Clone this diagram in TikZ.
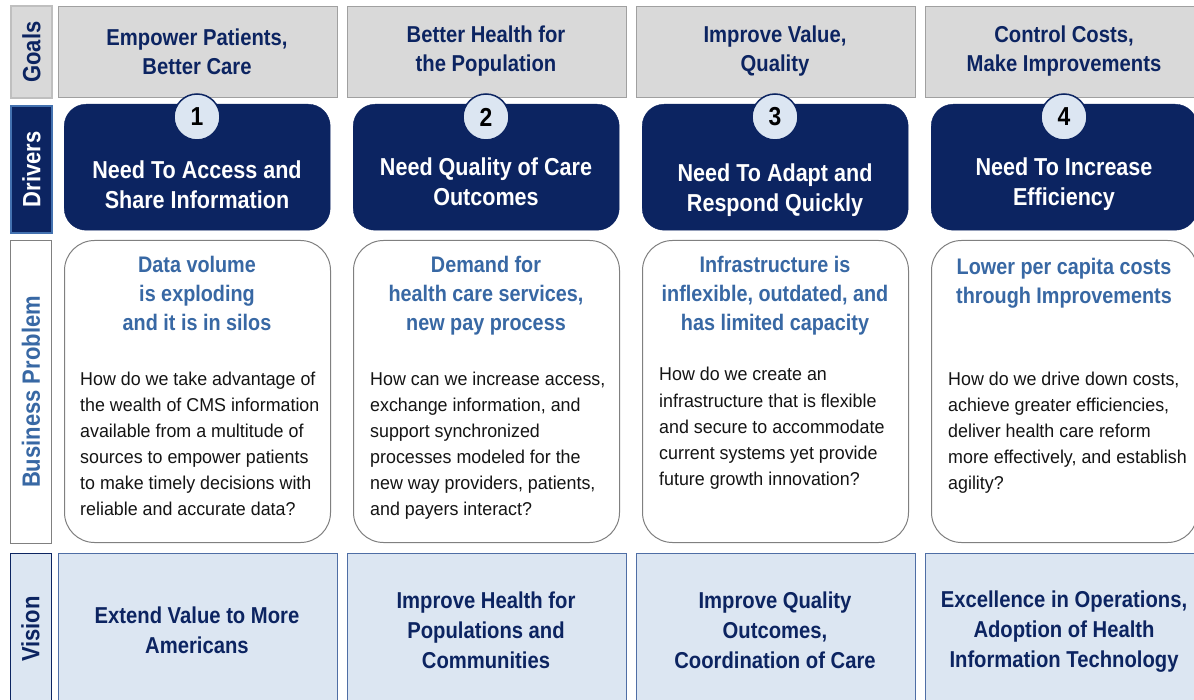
\documentclass[tikz,border=0pt]{standalone}
\usepackage{fontspec}
\setmainfont{Liberation Sans}
\newfontfamily\cnd[FakeStretch=0.88]{Liberation Sans}
\newfontfamily\bodyf[FakeStretch=0.96]{Liberation Sans}
\definecolor{navy}{RGB}{12,36,97}
\definecolor{goalgray}{RGB}{217,217,217}
\definecolor{goalline}{RGB}{160,160,160}
\definecolor{lblgoalline}{RGB}{191,191,191}
\definecolor{bpline}{RGB}{128,128,128}
\definecolor{visfill}{RGB}{220,230,242}
\definecolor{visline}{RGB}{79,110,165}
\definecolor{steel}{RGB}{56,104,164}
\definecolor{drvlblline}{RGB}{68,114,176}
\definecolor{bodytext}{RGB}{20,20,20}
\tikzset{
  goalbox/.style={draw=goalline, fill=goalgray, line width=1pt, minimum width=279pt, minimum height=91pt, inner sep=0, anchor=north west},
  drvbox/.style={fill=navy, draw=navy, rounded corners=22pt, minimum width=266pt, minimum height=126pt, inner sep=0, anchor=north west},
  bpbox/.style={draw=bpline, fill=white, line width=1pt, rounded corners=30pt, minimum width=266pt, minimum height=302pt, inner sep=0, anchor=north west},
  visbox/.style={draw=visline, fill=visfill, line width=1pt, minimum width=279pt, minimum height=160pt, inner sep=0, anchor=north west},
  numcirc/.style={circle, draw=navy, line width=1.5pt, fill=visfill, minimum size=46pt, inner sep=0, text=black, font=\cnd\bfseries\fontsize{26}{26}\selectfont},
  goaltext/.style={align=center, text=navy, inner sep=0, font=\cnd\bfseries\fontsize{23}{29}\selectfont},
  drvtext/.style={align=center, text=white, inner sep=0, font=\cnd\bfseries\fontsize{24.5}{30}\selectfont},
  bptitle/.style={align=center, text=steel, inner sep=0, anchor=north, font=\cnd\bfseries\fontsize{22.5}{29}\selectfont},
  bodyline/.style={anchor=base west, inner sep=0, text=bodytext, font=\bodyf\fontsize{18.6}{26}\selectfont},
  vistext/.style={align=center, text=navy, inner sep=0, font=\cnd\bfseries\fontsize{23}{30}\selectfont},
  lblbox/.style={minimum width=41pt, inner sep=0, anchor=north west},
  lbltext/.style={rotate=90, inner sep=0, font=\cnd\bfseries\fontsize{25}{25}\selectfont}
}
\begin{document}
\begin{tikzpicture}[x=1pt,y=-1pt]
\useasboundingbox (0,0) rectangle (1194,700);
\clip (0,0) rectangle (1194,700);
\fill[white] (0,0) rectangle (1194,700);
% row labels
\node[lblbox, fill=goalgray, draw=lblgoalline, line width=2pt, minimum height=92pt] (lgbox) at (10,5) {};
\node[lbltext, text=navy] (lg) at (lgbox.center) {Goals};
\node[lblbox, fill=navy, draw=drvlblline, line width=2pt, minimum height=127pt] (ldbox) at (10,105) {};
\node[lbltext, text=white] (ld) at (ldbox.center) {Drivers};
\node[lblbox, fill=white, draw=bpline, line width=1pt, minimum height=303pt] (lbbox) at (10,240) {};
\node[lbltext, text=steel] (lb) at (lbbox.center) {Business Problem};
\node[lblbox, fill=visfill, draw=navy, line width=1.2pt, minimum height=160pt] (lvbox) at (10,553) {};
\node[lbltext, text=navy] (lv) at (30.5,629) {Vision};
% columns
\foreach \c/\x in {1/58,2/347,3/636,4/925} {
  \node[goalbox] (goal\c) at (\x,6) {};
  \node[drvbox] (drv\c) at (\x+6,104) {};
  \node[numcirc] (num\c) at (\x+139,117) {\c};
  \node[bpbox] (bp\c) at (\x+6,240) {};
  \node[visbox] (vis\c) at (\x,553) {};
}
% goals
\node[goaltext] (gt1) at (197,51.5) {Empower Patients,\\Better Care};
\node[goaltext] (gt2) at (486,51.5) {Better Health for\\the Population};
\node[goaltext] (gt3) at (775,51.5) {Improve Value,\\Quality};
\node[goaltext] (gt4) at (1064,51.5) {Control Costs,\\Make Improvements};
% drivers
\node[drvtext] (dt1) at (197,185) {Need To Access and\\Share Information};
\node[drvtext] (dt2) at (486,182) {Need Quality of Care\\Outcomes};
\node[drvtext] (dt3) at (775,190.5) {Need To Adapt and\\Respond Quickly};
\node[drvtext] (dt4) at (1064,184.5) {Need To Increase\\Efficiency};
% business problem titles
\node[bptitle] (bt1) at (197,256) {Data volume\\is exploding\\and it is in silos};
\node[bptitle] (bt2) at (486,256) {Demand for\\health care services,\\new pay process};
\node[bptitle] (bt3) at (775,256) {Infrastructure is\\inflexible, outdated, and\\has limited capacity};
\node[bptitle] (bt4) at (1064,258) {Lower per capita costs\\through Improvements};
% body texts
\foreach \t [count=\i] in {{How do we take advantage of},{the wealth of CMS information},{available from a multitude of},{sources to empower patients},{to make timely decisions with},{reliable and accurate data?}}
  \node[bodyline] (ba\i) at (80,385+26*\i-26) {\t};
\foreach \t [count=\i] in {{How can we increase access,},{exchange information, and},{support synchronized},{processes modeled for the},{new way providers, patients,},{and payers interact?}}
  \node[bodyline] (bb\i) at (370,385+26*\i-26) {\t};
\foreach \t [count=\i] in {{How do we create an},{infrastructure that is flexible},{and secure to accommodate},{current systems yet provide},{future growth innovation?}}
  \node[bodyline] (bc\i) at (659,381+26*\i-26) {\t};
\foreach \t [count=\i] in {{How do we drive down costs,},{achieve greater efficiencies,},{deliver health care reform},{more effectively, and establish},{agility?}}
  \node[bodyline] (bd\i) at (948,385+26*\i-26) {\t};
% vision
\node[vistext] (vt1) at (197,630) {Extend Value to More\\Americans};
\node[vistext] (vt2) at (486,630) {Improve Health for\\Populations and\\Communities};
\node[vistext] (vt3) at (775,630) {Improve Quality\\Outcomes,\\Coordination of Care};
\node[vistext] (vt4) at (1064,632) {Excellence in Operations,\\Adoption of Health\\Information Technology};
\end{tikzpicture}
\end{document}
